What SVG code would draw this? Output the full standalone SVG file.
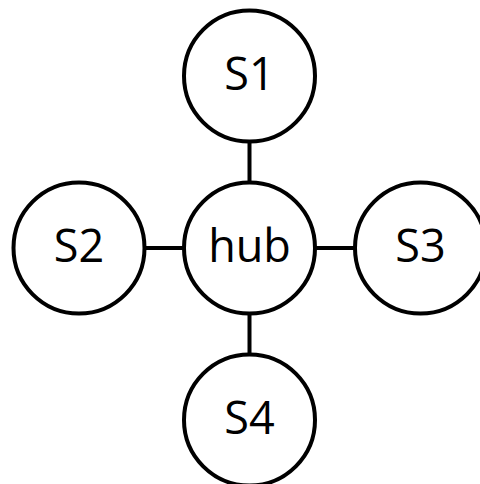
<svg xmlns="http://www.w3.org/2000/svg" width="480" height="484" viewBox="0 0 480 484">
  <style>
    .node circle { fill: #ffffff; stroke: #000000; stroke-width: 4; }
    .node text { font-family: "Open Sans", "Noto Sans", sans-serif; font-size: 45px; fill: #000000; text-anchor: middle; }
    .edge { stroke: #000000; stroke-width: 4; }
  </style>
  <rect width="480" height="484" fill="#ffffff"/>
  <g id="connectors">
    <line class="edge" x1="249.5" y1="143" x2="249.5" y2="182"/>
    <line class="edge" x1="146" y1="248" x2="183" y2="248"/>
    <line class="edge" x1="316" y1="248" x2="354" y2="248"/>
    <line class="edge" x1="249.5" y1="315" x2="249.5" y2="353"/>
  </g>
  <g id="S1" class="node">
    <circle cx="249.5" cy="76" r="65.5"/>
    <text x="249.5" y="90">S1</text>
  </g>
  <g id="S2" class="node">
    <circle cx="79" cy="248" r="65.5"/>
    <text x="79" y="262">S2</text>
  </g>
  <g id="hub" class="node">
    <circle cx="249.5" cy="248" r="65.5"/>
    <text x="249.5" y="262">hub</text>
  </g>
  <g id="S3" class="node">
    <circle cx="420.5" cy="248" r="65.5"/>
    <text x="420.5" y="262">S3</text>
  </g>
  <g id="S4" class="node">
    <circle cx="249.5" cy="420" r="65.5"/>
    <text x="249.5" y="434">S4</text>
  </g>
</svg>
